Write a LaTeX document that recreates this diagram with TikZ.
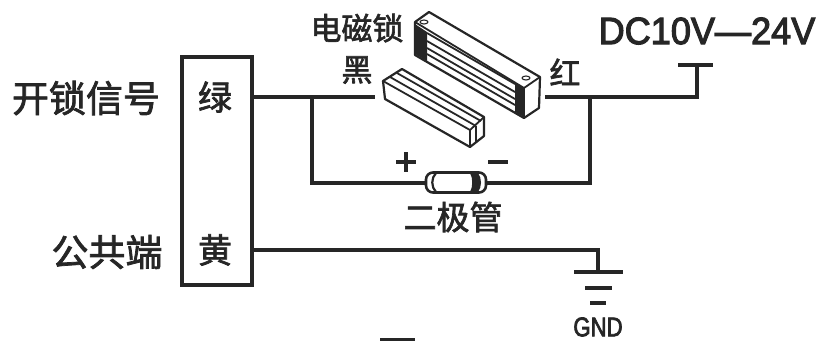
\documentclass[tikz,border=0pt]{standalone}
\usepackage{fontspec}
\setmainfont{Liberation Sans}[FakeBold=3]
\newfontfamily\cjk{Noto Sans CJK SC}[FakeBold=2]
\definecolor{ink}{HTML}{262626}
\tikzset{
 wire/.style={draw=ink,line width=3.2pt,line cap=butt},
 thin line/.style={draw=ink,line width=1.8pt,line join=round},
 lbl/.style={inner sep=0pt,text=ink},
}
\begin{document}
\begin{tikzpicture}[x=1pt,y=-1pt]
\useasboundingbox (0,0) rectangle (816,341);
% terminal box
\node[draw=ink,line width=3.2pt,minimum width=70pt,minimum height=228pt,inner sep=0pt] (box) at (217,171) {};
\node[lbl,font=\cjk\fontsize{34}{34}\selectfont] (green) at (215,97) {绿};
\node[lbl,font=\cjk\fontsize{34}{34}\selectfont] (yellow) at (215,250) {黄};
\node[lbl,font=\cjk\fontsize{37}{36}\selectfont] (unlock) at (86,98) {开锁信号};
\node[lbl,font=\cjk\fontsize{37}{36}\selectfont] (common) at (107,252) {公共端};
\node[lbl,font=\cjk\fontsize{31}{31}\selectfont] (lockname) at (357,28) {电磁锁};
\node[lbl,font=\cjk\fontsize{31}{31}\selectfont] (black) at (357,70) {黑};
\node[lbl,font=\cjk\fontsize{31}{31}\selectfont] (red) at (565,72) {红};
\node[lbl,font=\cjk\fontsize{33}{33}\selectfont] (dname) at (453,217) {二极管};
\node[lbl] (volt) at (707,31) {\fontsize{38}{38}\selectfont\scalebox{.95}[1]{DC10V—24V}};
\node[lbl] (gnd) at (598,327) {\fontsize{27}{27}\selectfont\scalebox{.82}[1]{GND}};
\draw[wire] (396,162) -- (416,162);
\draw[wire] (406,152) -- (406,172);
\draw[wire] (488,162) -- (508,162);
% coordinates
\coordinate (gL) at (box.east |- 0,97);
\coordinate (yL) at (box.east |- 0,250);
\coordinate (a1) at (375,97);
\coordinate (j1) at (312,97);
\coordinate (b1) at (312,183);
\coordinate (d1) at (425,183);
\coordinate (a2) at (545,97);
\coordinate (j2) at (590,97);
\coordinate (b2) at (590,183);
\coordinate (d2) at (487,183);
\coordinate (vc) at (697,97);
\coordinate (vt) at (697,65);
\coordinate (vl) at (678,65);
\coordinate (vr) at (713,65);
\coordinate (gc) at (598,250);
\coordinate (gt) at (598,272);
% wires
\draw[wire] (gL) -- (a1);
\draw[wire,line join=miter] (j1) -- (b1) -- (d1);
\draw[wire,line join=miter] (j2) -- (b2) -- (d2);
\draw[wire,line join=miter] (a2) -- (vc) -- (vt);
\draw[wire] (vl) -- (vr);
\draw[wire,line join=miter] (yL) -- (gc) -- (gt);
% ground
\coordinate (g1l) at (574,272); \coordinate (g1r) at (623,272);
\coordinate (g2l) at (585,288); \coordinate (g2r) at (612,288);
\coordinate (g3l) at (590,303); \coordinate (g3r) at (606,303);
\draw[wire] (g1l) -- (g1r);
\draw[wire] (g2l) -- (g2r);
\draw[wire] (g3l) -- (g3r);
% diode
\draw[thin line,line width=2.6pt,fill=white,rounded corners=7pt] (426,172.5) rectangle (486,192.5);
\draw[thin line,line width=2.2pt] (436,173) .. controls (431,178) and (431,187) .. (436,192);
\fill[ink] (470,173) -- (478,173) .. controls (482,178) and (482,187) .. (478,192) -- (470,192) .. controls (473,187) and (473,178) .. (470,173) -- cycle;
% magnet
\draw[thin line,fill=white,line width=2.2pt] (415,22) -- (429,12) -- (540,77) -- (539,108) -- (524,118) -- (415,55) -- cycle;
\fill[ink] (415,24) -- (427,32) -- (427,61) -- (415,54) -- cycle;
\fill[ink] (515,83) -- (524,88) -- (524,117) -- (515,112) -- cycle;
\draw[thin line] (415,22) -- (524,88) -- (540,77);
\draw[thin line] (524,88) -- (524,118);
\draw[thin line] (427,33) -- (515,84);
\draw[thin line] (427,41) -- (515,92);
\draw[thin line] (427,48) -- (515,99);
\draw[thin line] (427,54) -- (515,105);
\draw[thin line,line width=1.1pt] (424,22) ellipse (4pt and 2pt);
\draw[thin line,line width=1.1pt] (526,78) ellipse (4pt and 2pt);
% armature
\draw[thin line,fill=white,line width=2.2pt] (383,81) -- (402,69) -- (484,117) -- (484,136) -- (470,147) -- (385,99) -- cycle;
\draw[thin line] (383,81) -- (470,130) -- (484,117);
\draw[thin line] (470,130) -- (470,147);
\draw[thin line] (390,77) -- (476,126);
\draw[thin line] (397,73) -- (481,121);
\draw[thin line] (476,126) -- (476,142);
% clipped mark on the bottom edge
\fill[ink] (380,338) rectangle (415,341);
\end{tikzpicture}
\end{document}
